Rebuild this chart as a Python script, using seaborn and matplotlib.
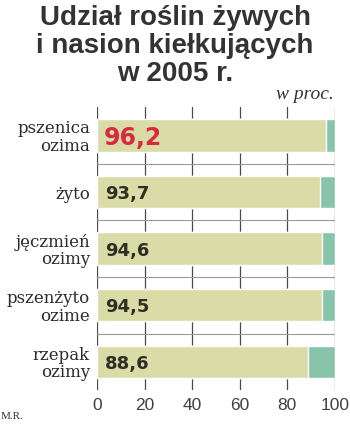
import matplotlib
matplotlib.use("Agg")
import matplotlib.pyplot as plt
import seaborn as sns
import pandas as pd

# Share of live plants and germinating seeds, 2005 (percent)
categories = ["pszenica\nozima", "żyto", "jęczmień\nozimy", "pszenżyto\nozime", "rzepak\nozimy"]
values = [96.2, 93.7, 94.6, 94.5, 88.6]
value_labels = ["96,2", "93,7", "94,6", "94,5", "88,6"]
xticks = [0, 20, 40, 60, 80, 100]

df = pd.DataFrame({"crop": categories, "share": values, "total": [100] * len(values)})

sns.set_theme(style="white")
plt.rcParams["font.family"] = ["DejaVu Sans"]

fig = plt.figure(figsize=(3.5, 4.25), dpi=100)
ax = fig.add_axes([0.277, 0.082, 0.68, 0.666])

olive = "#dadca8"
green = "#88c4aa"

sns.barplot(data=df, x="total", y="crop", orient="h", color=green,
            width=0.57, saturation=1, ax=ax, zorder=3)
sns.barplot(data=df, x="share", y="crop", orient="h", color=olive,
            width=0.57, saturation=1, ax=ax, zorder=4)

ax.set_xlim(0, 100)
ax.set_ylim(4.5, -0.5)
ax.set_xlabel("")
ax.set_ylabel("")
for s in ax.spines.values():
    s.set_visible(False)

# vertical grid and category separators
for x in xticks:
    ax.axvline(x, color="#4a4a4a", lw=0.9, zorder=1)
for i in range(len(categories) - 1):
    ax.axhline(i + 0.5, color="#9a9a9a", lw=0.8, zorder=1)

ax.set_xticks(xticks)
ax.set_xticklabels([str(t) for t in xticks], fontsize=12.5, color="#404040",
                   family="Liberation Sans")
ax.tick_params(axis="x", length=0, pad=6)

ax.set_yticks(range(len(categories)))
ax.set_yticklabels(categories, fontsize=12, color="#2b2b2b",
                   family="DejaVu Serif", linespacing=1.05)
ax.tick_params(axis="y", length=0, pad=5)

for i, (v, lab) in enumerate(zip(values, value_labels)):
    if i == 0:
        ax.text(3, i + 0.04, lab, va="center", ha="left", fontsize=17,
                fontweight="bold", color="#d62b3e", zorder=5)
    else:
        ax.text(3.5, i + 0.04, lab, va="center", ha="left", fontsize=13,
                fontweight="bold", color="#2e2e22", zorder=5)

fig.text(0.5, 0.988, "Udział roślin żywych\ni nasion kiełkujących\nw 2005 r.",
         ha="center", va="top", fontsize=20, fontweight="bold",
         family="Liberation Sans", color="#333333", linespacing=1.1)
fig.text(0.953, 0.768, "w proc.", ha="right", va="baseline", fontsize=14,
         style="italic", family="Liberation Serif", color="#333333")
fig.text(0.003, 0.015, "M.R.", ha="left", va="baseline", fontsize=8,
         family="Liberation Serif", color="#333333")

fig.savefig("out.png", dpi=100)
